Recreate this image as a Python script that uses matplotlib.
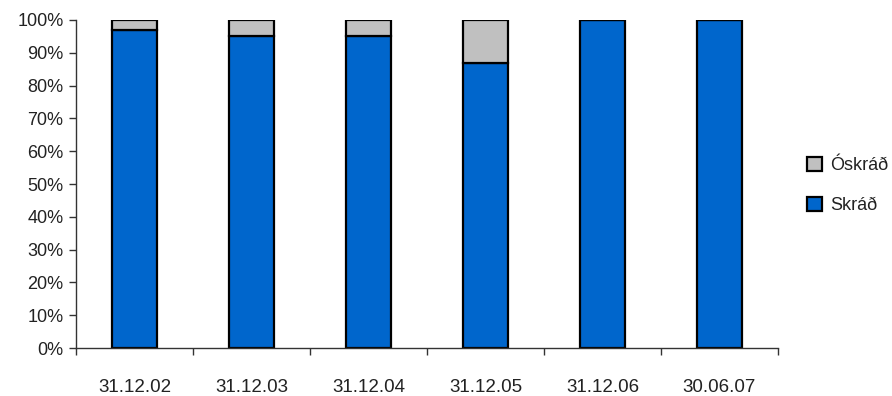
import matplotlib
matplotlib.use("Agg")
import matplotlib.pyplot as plt
import numpy as np

# Skráð / óskráð hlutfall eftir dagsetningu
dagsetningar = ["31.12.02", "31.12.03", "31.12.04", "31.12.05", "31.12.06", "30.06.07"]
skrad = [97, 95, 95, 87, 100, 100]
oskrad = [3, 5, 5, 13, 0, 0]

plt.rcParams["font.family"] = ["Liberation Sans", "DejaVu Sans"]

fig = plt.figure(figsize=(8.92, 3.96), dpi=100)
ax = fig.add_axes([0.0852, 0.1212, 0.7870, 0.8283])

x = np.arange(len(dagsetningar))
b1 = ax.bar(x, skrad, width=0.39, color="#0066CC", edgecolor="black", linewidth=1.6, label="Skráð")
b2 = ax.bar(x, oskrad, bottom=skrad, width=0.39, color="#C0C0C0", edgecolor="black", linewidth=1.6, label="Óskráð")

ax.set_xlim(-0.5, len(dagsetningar) - 0.5)
ax.set_ylim(0, 100)
ax.set_yticks(np.arange(0, 101, 10))
ax.set_yticklabels([f"{v}%" for v in range(0, 101, 10)])

# merki á milli flokka, textar undir miðju súlna
ax.set_xticks(np.arange(-0.5, len(dagsetningar) - 0.4, 1))
ax.set_xticklabels([])
ax.set_xticks(x, minor=True)
ax.set_xticklabels(dagsetningar, minor=True)
ax.tick_params(axis="x", which="minor", length=0, pad=22, labelsize=13.5, colors="#222222")
ax.tick_params(axis="x", which="major", length=5, direction="out", width=1, color="#333333")
ax.tick_params(axis="y", length=5, direction="out", width=1, labelsize=13, pad=4,
               color="#333333", labelcolor="#222222")

for s in ["top", "right"]:
    ax.spines[s].set_visible(False)
for s in ["left", "bottom"]:
    ax.spines[s].set_linewidth(1)
    ax.spines[s].set_color("#333333")

leg = ax.legend(handles=[b2, b1], loc="center left", bbox_to_anchor=(1.028, 0.495),
                frameon=False, fontsize=13, handlelength=0.85, handleheight=0.85,
                labelspacing=1.25, handletextpad=0.45, borderpad=0)
for t in leg.get_texts():
    t.set_color("#222222")

fig.savefig("out.png", dpi=100)
